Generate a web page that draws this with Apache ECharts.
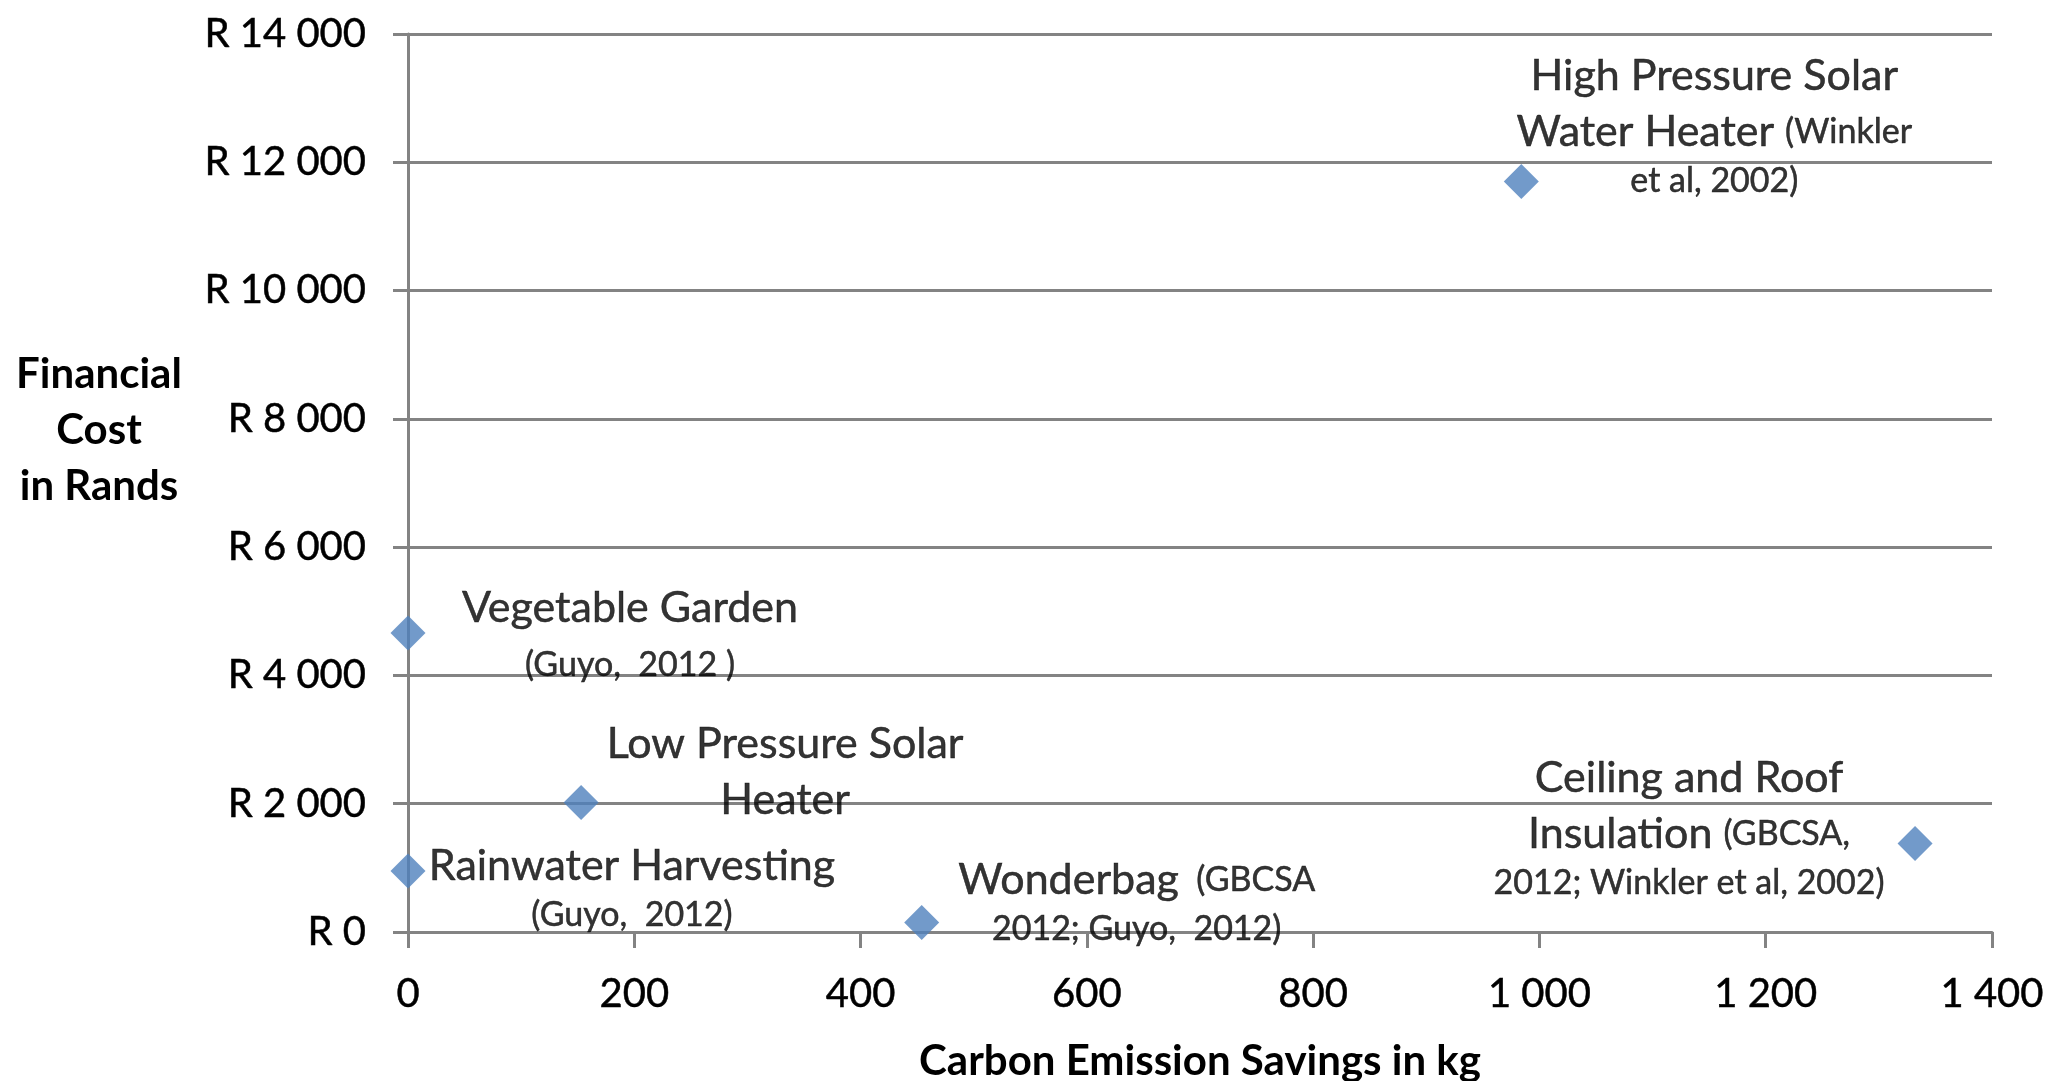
<!DOCTYPE html>
<html>
<head>
<meta charset="utf-8">
<script src="https://cdn.jsdelivr.net/npm/echarts@6/dist/echarts.min.js"></script>
<style>
html,body{margin:0;padding:0;background:#fff;}
#chart{width:2051px;height:1081px;}
</style>
</head>
<body>
<div id="chart"></div>
<script>
// ---- data ----
var names = ['Vegetable Garden', 'Low Pressure Solar Heater', 'Rainwater Harvesting', 'Wonderbag', 'High Pressure Solar Water Heater', 'Ceiling and Roof Insulation'];
var carbonSavings = [0, 153, 0, 454, 984, 1332];
var financialCost = [4660, 2020, 950, 150, 11700, 1380];
var labelTexts = [
  '{b|Vegetable Garden}\n{sl|(Guyo,  2012 )}',
  '{b|Low Pressure Solar}\n{b|Heater}',
  '{b|Rainwater Harvesting}\n{s|(Guyo,  2012)}',
  '{b|Wonderbag}{s|  (GBCSA}\n{s|2012; Guyo,  2012)}',
  '{b|High Pressure Solar}\n{b|Water Heater }{s|(Winkler}\n{s|et al, 2002)}',
  '{b|Ceiling and Roof}\n{b|Insulation }{s|(GBCSA,}\n{s|2012; Winkler et al, 2002)}'
];
var xTicks = [0, 200, 400, 600, 800, 1000, 1200, 1400];
var yTicks = [0, 2000, 4000, 6000, 8000, 10000, 12000, 14000];

// ---- layout (label offsets from marker, px) ----
var labelOffsets = [[222, 4], [204, -30], [224, 16], [215, -21], [193, -56], [-226, -16]];

var FONT = 'Lato, "Open Sans", sans-serif';
var GRAY = '#838383';
var INK = { textBorderColor: '#000', textBorderWidth: 0.5 };

function spaced(v) {
  return String(v).replace(/\B(?=(\d{3})+(?!\d))/g, ' ');
}

var seriesData = names.map(function (n, i) {
  return {
    name: n,
    value: [carbonSavings[i], financialCost[i]],
    label: { formatter: labelTexts[i], offset: labelOffsets[i] }
  };
});

function richStyle(size, lh) {
  return Object.assign({ fontFamily: FONT, fontSize: size, lineHeight: lh, color: '#000', align: 'center' }, INK);
}

var chart = echarts.init(document.getElementById('chart'), null, { renderer: 'canvas' });
chart.setOption({
  animation: false,
  backgroundColor: '#ffffff',
  grid: { left: 408, right: 59, top: 34, bottom: 149, containLabel: false, outerBoundsMode: 'none' },
  xAxis: {
    type: 'value',
    min: xTicks[0], max: xTicks[xTicks.length - 1], interval: 200,
    name: 'Carbon Emission Savings in kg',
    nameLocation: 'middle', nameGap: 129,
    nameTextStyle: { fontFamily: FONT, fontWeight: 'bold', fontSize: 42, color: '#000', verticalAlign: 'middle' },
    axisLine: { show: true, lineStyle: { color: GRAY, width: 3 } },
    axisTick: { show: true, inside: false, length: 16, lineStyle: { color: GRAY, width: 3 } },
    axisLabel: Object.assign({ margin: 42, fontFamily: FONT, fontSize: 40, color: '#000', formatter: function (v) { return spaced(v); } }, INK),
    splitLine: { show: false }
  },
  yAxis: {
    type: 'value',
    min: yTicks[0], max: yTicks[yTicks.length - 1], interval: 2000,
    axisLine: { show: true, onZero: false, lineStyle: { color: GRAY, width: 3 } },
    axisTick: { show: true, inside: false, length: 15, lineStyle: { color: GRAY, width: 3 } },
    axisLabel: Object.assign({ margin: 42, fontFamily: FONT, fontSize: 40, color: '#000', formatter: function (v) { return 'R ' + spaced(v); } }, INK),
    splitLine: { show: true, lineStyle: { color: GRAY, width: 3 } }
  },
  graphic: [{
    type: 'text',
    x: 99, y: 430,
    style: {
      text: 'Financial\nCost\nin Rands',
      fontFamily: FONT, fontWeight: 'bold', fontSize: 42, lineHeight: 56,
      fill: '#000', align: 'center', verticalAlign: 'middle'
    }
  }],
  series: [{
    type: 'scatter',
    symbol: 'diamond',
    symbolSize: 35,
    itemStyle: { color: '#4F81BD' },
    label: {
      show: true,
      position: 'inside',
      align: 'center',
      verticalAlign: 'middle',
      color: '#000',
      fontFamily: FONT,
      rich: {
        b: richStyle(43, 56),
        s: richStyle(34, 42),
        sl: richStyle(34, 58)
      }
    },
    data: seriesData,
    z: 3
  }]
});
</script>
</body>
</html>
